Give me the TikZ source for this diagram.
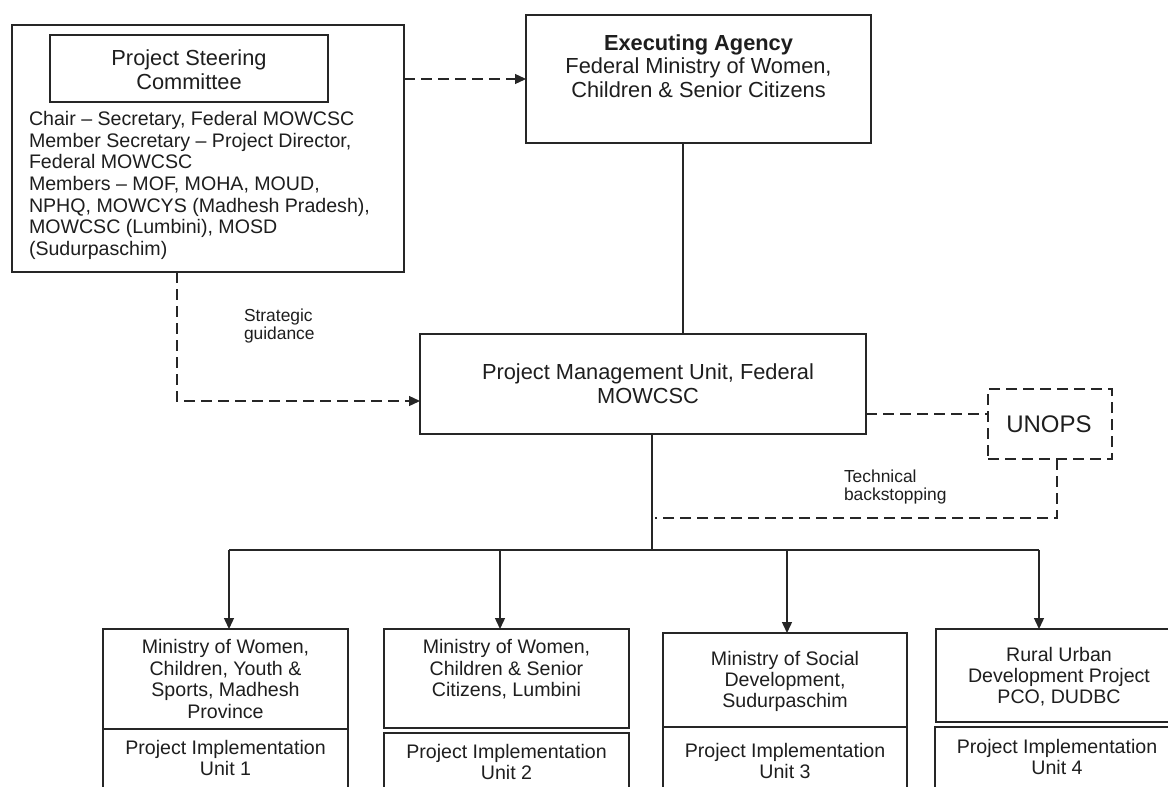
\documentclass[tikz,border=0pt]{standalone}
\usepackage{fontspec}
\setmainfont{Liberation Sans}
\usetikzlibrary{arrows.meta}
\definecolor{lc}{HTML}{262626}
\definecolor{tc}{HTML}{1E1E1E}
\begin{document}
\begin{tikzpicture}[x=1pt,y=-1pt,
  box/.style={draw=lc, line width=1.4pt, inner sep=0pt, outer sep=0pt, anchor=north west},
  dbox/.style={box, dash pattern=on 11pt off 6pt, line width=1.3pt},
  txt/.style={inner sep=0pt, outer sep=0pt, text=tc, anchor=north, align=center},
  ltxt/.style={inner sep=0pt, outer sep=0pt, text=tc, anchor=north west, align=left},
  big/.style={font=\fontsize{21.8}{23.8}\selectfont},
  mid/.style={font=\fontsize{19.6}{21.6}\selectfont},
  small/.style={font=\fontsize{17.4}{17.6}\selectfont},
  conn/.style={draw=lc, line width=1.4pt},
  dconn/.style={draw=lc, line width=1.3pt, dash pattern=on 11pt off 6pt},
  arr/.style={-{Triangle[length=11pt,width=10pt]}}
]
\clip (0,0) rectangle (1168,787);
\fill[white] (0,0) rectangle (1168,787);

% Project Steering Committee
\node[box, minimum width=392pt, minimum height=247pt] (psc) at (12,25) {};
\node[box, minimum width=278pt, minimum height=67pt] (pscin) at (50,35) {};
\node[txt, big] (psct) at (189,49.5) {Project Steering\\Committee};
\node[ltxt, mid] (pscl) at (29,111.5) {Chair -- Secretary, Federal MOWCSC\\Member Secretary -- Project Director,\\Federal MOWCSC\\Members -- MOF, MOHA, MOUD,\\NPHQ, MOWCYS (Madhesh Pradesh),\\MOWCSC (Lumbini), MOSD\\(Sudurpaschim)};

% Executing Agency
\node[box, minimum width=345pt, minimum height=128pt] (ea) at (526,15) {};
\node[txt, big, font=\fontsize{21.8}{23.5}\selectfont] (eat) at (698.5,34.5) {\textbf{Executing Agency}\\Federal Ministry of Women,\\Children \& Senior Citizens};

% PMU
\node[box, minimum width=446pt, minimum height=100pt] (pmu) at (420,334) {};
\node[txt, big] (pmut) at (648,363.5) {Project Management Unit, Federal\\MOWCSC};

% UNOPS
\node[dbox, minimum width=124pt, minimum height=70pt] (unops) at (988,389) {};
\node[inner sep=0pt, text=tc, font=\fontsize{24}{26}\selectfont] (unopst) at (1049,424) {UNOPS};

% labels
\node[ltxt, small] (sg) at (244,309) {Strategic\\guidance};
\node[ltxt, small] (tb) at (844,470) {Technical\\backstopping};

% bottom boxes
\node[box, minimum width=245pt, minimum height=100pt] (b1) at (103,629) {};
\node[box, minimum width=245pt, minimum height=80pt] (p1) at (103,729) {};
\node[box, minimum width=245pt, minimum height=99pt] (b2) at (384,629) {};
\node[box, minimum width=245pt, minimum height=80pt] (p2) at (384,733) {};
\node[box, minimum width=244pt, minimum height=94pt] (b3) at (663,633) {};
\node[box, minimum width=244pt, minimum height=80pt] (p3) at (663,727) {};
\node[box, minimum width=250pt, minimum height=93pt] (b4) at (936,629) {};
\node[box, minimum width=250pt, minimum height=80pt] (p4) at (935,727) {};

\node[txt, mid] (b1t) at (225.5,639.4) {Ministry of Women,\\Children, Youth \&\\Sports, Madhesh\\Province};
\node[txt, mid, font=\fontsize{19.6}{21}\selectfont] (p1t) at (225.5,740.4) {Project Implementation\\Unit 1};
\node[txt, mid] (b2t) at (506.5,639.4) {Ministry of Women,\\Children \& Senior\\Citizens, Lumbini};
\node[txt, mid, font=\fontsize{19.6}{20.5}\selectfont] (p2t) at (506.5,744.4) {Project Implementation\\Unit 2};
\node[txt, mid, font=\fontsize{19.6}{20.8}\selectfont] (b3t) at (785,651.4) {Ministry of Social\\Development,\\Sudurpaschim};
\node[txt, mid, font=\fontsize{19.6}{20.5}\selectfont] (p3t) at (785,743.4) {Project Implementation\\Unit 3};
\node[txt, mid, font=\fontsize{19.6}{21}\selectfont] (b4t) at (1059,647.4) {Rural Urban\\Development Project\\PCO, DUDBC};
\node[txt, mid, font=\fontsize{19.6}{21}\selectfont] (p4t) at (1057,739.4) {Project Implementation\\Unit 4};

% connectors
\draw[dconn, arr] (ea.west -| psc.east) -- (ea.west);
\draw[conn] ([xshift=-15.5pt]ea.south) -- ([xshift=-15.5pt]ea.south |- pmu.north);
\draw[dconn, arr] ([xshift=165pt]psc.south west) |- ([yshift=-17pt]pmu.west);
\draw[dconn] ([yshift=-30pt]pmu.east) -- ([yshift=-30pt]pmu.east -| unops.west);
\coordinate (tbend) at (655,518);
\draw[dconn] ([xshift=7pt]unops.south) |- (tbend);

\coordinate (bus) at (652,550);
\draw[conn] ([xshift=9pt]pmu.south) -- (bus);
\draw[conn] ([xshift=3.5pt]b1.north |- bus) -- ([xshift=-22pt]b4.north |- bus);
\draw[conn, arr] ([xshift=3.5pt]b1.north |- bus) -- ([xshift=3.5pt]b1.north);
\draw[conn, arr] ([xshift=-6.5pt]b2.north |- bus) -- ([xshift=-6.5pt]b2.north);
\draw[conn, arr] ([xshift=2pt]b3.north |- bus) -- ([xshift=2pt]b3.north);
\draw[conn, arr] ([xshift=-22pt]b4.north |- bus) -- ([xshift=-22pt]b4.north);
\end{tikzpicture}
\end{document}
